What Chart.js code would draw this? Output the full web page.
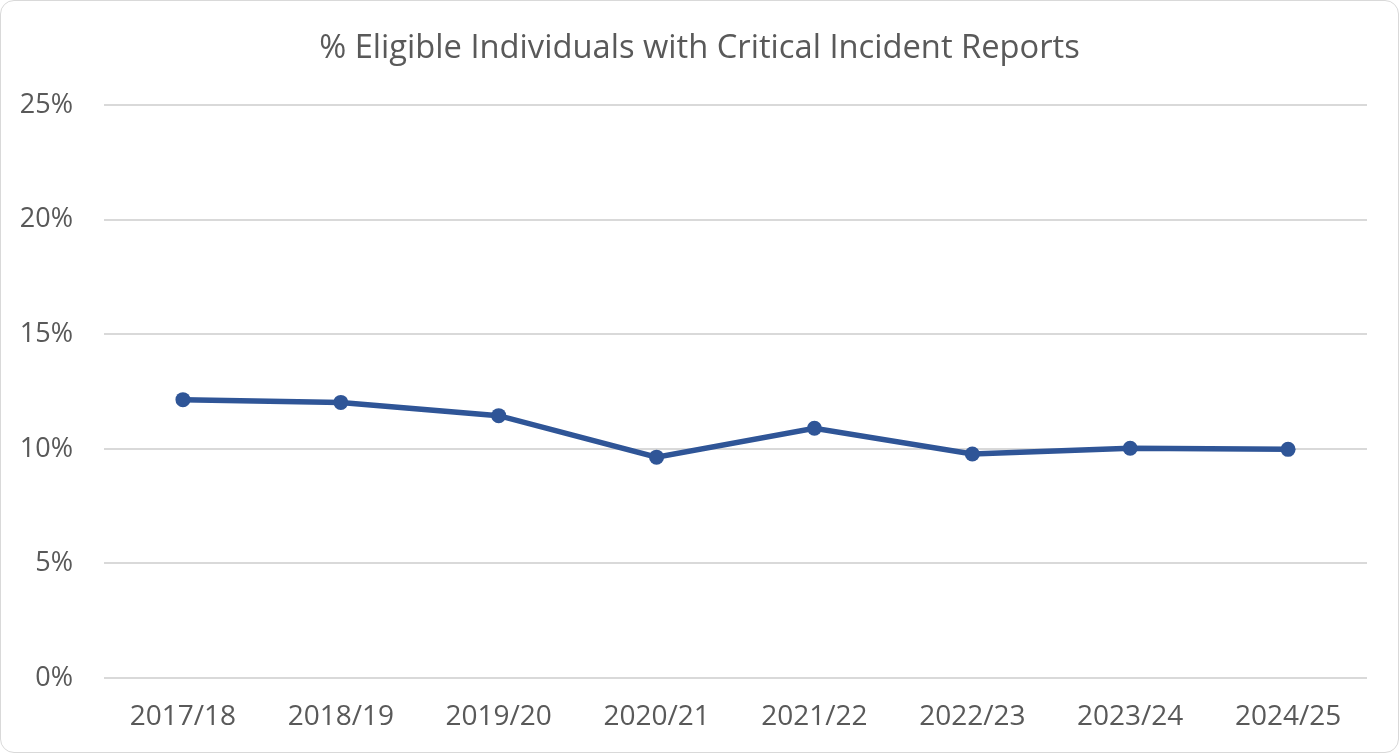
<!DOCTYPE html>
<html>
<head>
<meta charset="utf-8">
<script src="https://cdn.jsdelivr.net/npm/chart.js@4.4.1/dist/chart.umd.min.js"></script>
<style>
  html, body { margin: 0; padding: 0; background: #fff; }
  #box {
    position: absolute; left: 0; top: 0;
    width: 1397px; height: 751px;
    border: 1px solid #d9d9d9; border-radius: 14px;
    overflow: hidden;
  }
  #wrap { position: absolute; left: 0; top: 0; width: 1397px; height: 751px; }
</style>
</head>
<body>
<div id="box"><div id="wrap"><canvas id="chart"></canvas></div></div>
<script>
// data
const years = ["2017/18", "2018/19", "2019/20", "2020/21", "2021/22", "2022/23", "2023/24", "2024/25"];
const pctWithReports = [12.15, 12.03, 11.45, 9.64, 10.90, 9.78, 10.03, 9.98];
const yTicks = [0, 5, 10, 15, 20, 25];

const lineBlue = "#2f5597";
const textGrey = "#595959";
const gridGrey = "#d9d9d9";

new Chart(document.getElementById("chart"), {
  type: "line",
  data: {
    labels: years,
    datasets: [{
      label: "% Eligible Individuals with Critical Incident Reports",
      data: pctWithReports,
      borderColor: lineBlue,
      backgroundColor: lineBlue,
      borderWidth: 5.5,
      pointRadius: 7.5,
      pointHoverRadius: 7.5,
      pointBorderWidth: 0,
      tension: 0
    }]
  },
  options: {
    responsive: true,
    maintainAspectRatio: false,
    animation: false,
    layout: { padding: 0 },
    plugins: {
      legend: { display: false },
      tooltip: { enabled: false },
      title: {
        display: true,
        text: "% Eligible Individuals with Critical Incident Reports",
        color: textGrey,
        font: { family: "'Open Sans'", size: 32.7, weight: "normal" },
        padding: { top: 28, bottom: 37 }
      }
    },
    scales: {
      x: {
        offset: true,
        grid: { display: false, drawTicks: false },
        border: { display: false },
        ticks: {
          color: textGrey,
          font: { family: "'Open Sans'", size: 28 },
          padding: 22,
          maxRotation: 0
        },
        afterFit: function(scale) { scale.height = 74; }
      },
      y: {
        min: 0,
        max: 25,
        afterBuildTicks: function(scale) {
          scale.ticks = yTicks.map(function(v) { return { value: v }; });
        },
        grid: { color: gridGrey, lineWidth: 2, drawTicks: false },
        border: { display: false },
        ticks: {
          color: textGrey,
          font: { family: "'Open Sans'", size: 27 },
          padding: 31,
          callback: function(v) { return v + "%"; }
        },
        afterFit: function(scale) { scale.width = 103; }
      },
      // empty right axis, just keeps the right margin so the title stays centred
      yRight: {
        display: true,
        position: "right",
        min: 0,
        max: 25,
        grid: { display: false, drawTicks: false },
        border: { display: false },
        ticks: { display: false },
        afterFit: function(scale) { scale.width = 31; }
      }
    }
  }
});
</script>
</body>
</html>
